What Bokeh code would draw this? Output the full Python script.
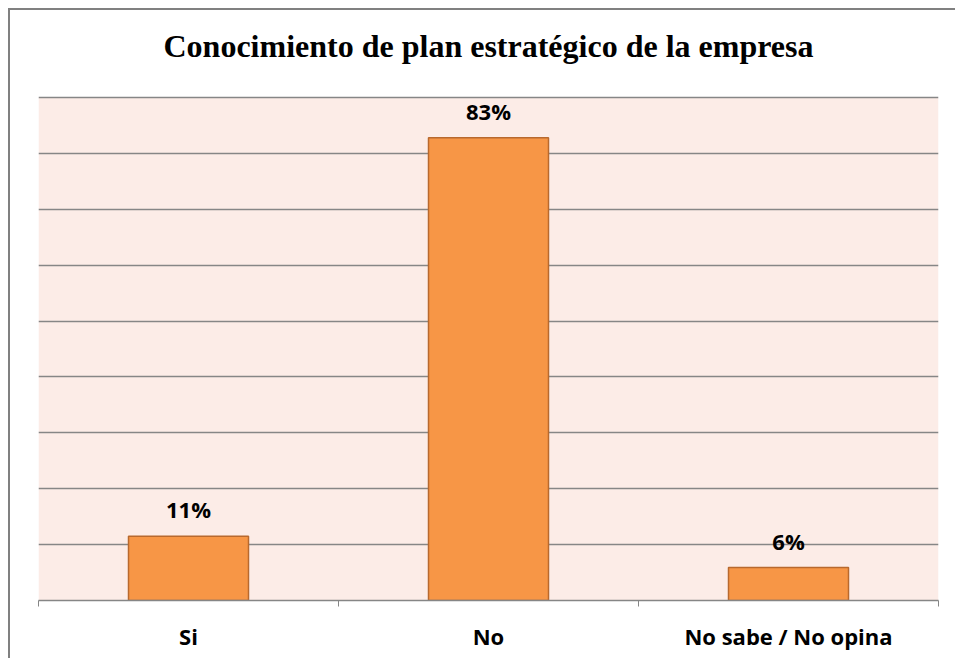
from bokeh.plotting import figure
from bokeh.models import ColumnDataSource, FixedTicker, LabelSet, BoxAnnotation
from bokeh.core.properties import value
from bokeh.embed import file_html
from bokeh.resources import INLINE

title_text = "Conocimiento de plan estratégico de la empresa"
categories = ["Si", "No", "No sabe / No opina"]
values = [11.5, 82.8, 5.9]
value_labels = ["11%", "83%", "6%"]
y_ticks = [0, 10, 20, 30, 40, 50, 60, 70, 80, 90]

y_max = y_ticks[-1]
frame_h = 590           # px of plot frame
plot_h = 503            # px covered by 0..y_max
y_top = y_max * frame_h / plot_h

xpos = [i + 0.5 for i in range(len(categories))]
src = ColumnDataSource(dict(x=xpos, top=values, lab=value_labels))

p = figure(width=947, height=650, x_range=(0, len(categories)), y_range=(0, y_top),
           title=None, output_backend="svg", toolbar_location=None,
           min_border_left=28, min_border_right=19, min_border_top=0,
           min_border_bottom=60,
           styles={"margin-left": "10px", "margin-top": "10px",
                   "box-shadow": "-2px -2px 0 0 #808080"})

p.background_fill_color = "white"
p.border_fill_color = "white"
p.outline_line_color = None

plot_area = BoxAnnotation(left=0, right=len(categories), bottom=0, top=y_max,
                          fill_color="#FCECE7", fill_alpha=1.0, line_color=None,
                          level="image")
p.add_layout(plot_area)

# title drawn as text in the upper white part of the frame
title_y = y_max + 52 * y_max / plot_h
p.text(x=[len(categories) / 2], y=[title_y], text=[title_text],
       text_align="center", text_baseline="middle",
       text_font=value("Liberation Serif"), text_font_size="32px",
       text_font_style="bold", text_color="black")

p.vbar(x="x", top="top", width=0.4, bottom=0, source=src,
       fill_color="#F79646", line_color="#B8692E", line_width=1.5)

labels = LabelSet(x="x", y="top", text="lab", source=src, y_offset=27,
                  text_align="center", text_baseline="middle",
                  text_font=value("Open Sans"), text_font_style="bold",
                  text_font_size="22px", text_color="black")
p.add_layout(labels)

p.yaxis.visible = False
p.ygrid.ticker = FixedTicker(ticks=y_ticks)
p.ygrid.grid_line_color = "#868686"
p.ygrid.grid_line_width = 1.3
p.ygrid.level = "underlay"
p.xgrid.visible = False

p.xaxis.ticker = FixedTicker(ticks=xpos, minor_ticks=list(range(len(categories) + 1)))
p.xaxis.major_label_overrides = {x: c for x, c in zip(xpos, categories)}
p.xaxis.major_tick_out = 0
p.xaxis.major_tick_in = 0
p.xaxis.minor_tick_out = 6
p.xaxis.minor_tick_in = 0
p.xaxis.minor_tick_line_color = "#868686"
p.xaxis.axis_line_color = "#868686"
p.xaxis.axis_line_width = 1.3
p.xaxis.major_label_standoff = 14
p.xaxis.major_label_text_font = "Open Sans"
p.xaxis.major_label_text_font_style = "bold"
p.xaxis.major_label_text_font_size = "22px"
p.xaxis.major_label_text_color = "black"

open("out.html", "w").write(file_html(p, INLINE))
